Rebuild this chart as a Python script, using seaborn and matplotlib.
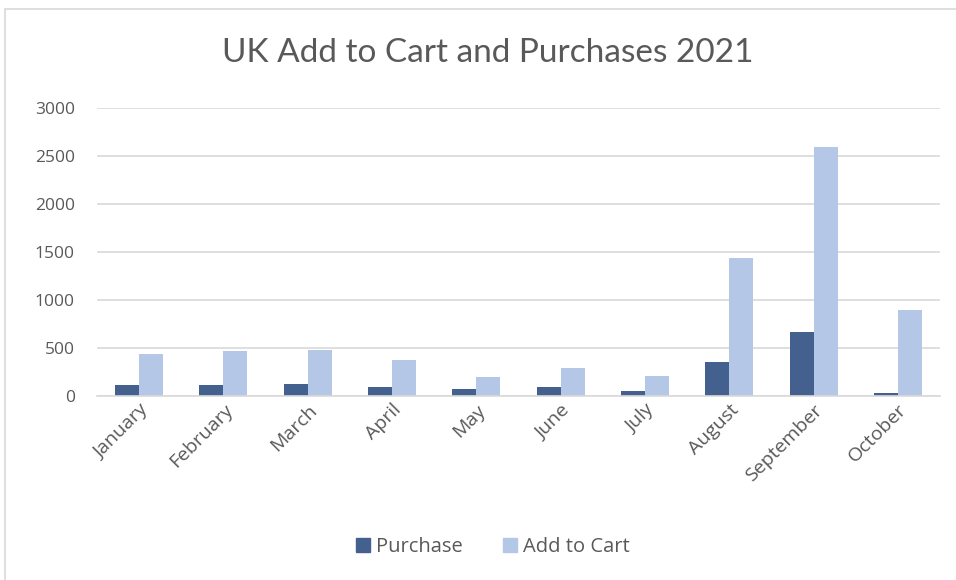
import matplotlib
matplotlib.use("Agg")
import matplotlib.pyplot as plt
import matplotlib.patches as mpatches
import seaborn as sns
import pandas as pd

months = ["January", "February", "March", "April", "May", "June",
          "July", "August", "September", "October"]
purchase = [110, 110, 120, 89, 65, 84, 45, 348, 661, 27]
add_to_cart = [436, 464, 472, 370, 193, 288, 201, 1436, 2595, 890]
series_names = ["Purchase", "Add to Cart"]
y_ticks = [0, 500, 1000, 1500, 2000, 2500, 3000]

colors = {"Purchase": "#44608F", "Add to Cart": "#B4C7E7"}
text_color = "#595959"
grid_color = "#D9D9D9"

df = pd.DataFrame({
    "Month": months * 2,
    "Series": [series_names[0]] * len(months) + [series_names[1]] * len(months),
    "Value": purchase + add_to_cart,
})

sns.set_theme(style="white")
plt.rcParams["font.family"] = ["Open Sans", "DejaVu Sans"]
plt.rcParams["ytick.major.pad"] = 16
plt.rcParams["xtick.major.pad"] = 5

fig = plt.figure(figsize=(9.56, 5.80), dpi=100)
ax = fig.add_axes([97 / 956, 1 - 395.5 / 580, 843 / 956, 287.5 / 580])

sns.barplot(data=df, x="Month", y="Value", hue="Series", order=months,
            hue_order=series_names, palette=colors, width=0.57,
            linewidth=0, saturation=1, ax=ax, legend=False)

ax.set_ylim(0, 3000)
ax.set_xlim(-0.5, len(months) - 0.5)
ax.set_yticks(y_ticks)
ax.set_yticklabels([str(t) for t in y_ticks])
ax.yaxis.grid(True, color=grid_color, linewidth=1.2)
ax.set_axisbelow(True)
for side in ["top", "right", "left"]:
    ax.spines[side].set_visible(False)
ax.spines["bottom"].set_color(grid_color)
ax.spines["bottom"].set_linewidth(1.2)
ax.set_xlabel("")
ax.set_ylabel("")
ax.tick_params(axis="both", length=0, colors=text_color)
ax.tick_params(axis="y", labelsize=12.5, pad=16)
ax.tick_params(axis="x", labelsize=14, pad=4)
for lbl in ax.get_xticklabels():
    lbl.set_rotation(45)
    lbl.set_ha("right")
    lbl.set_rotation_mode("anchor")

fig.text(488 / 956, 1 - 53 / 580, "UK Add to Cart and Purchases 2021",
         ha="center", va="center", fontsize=24, color=text_color,
         family=["Lato", "DejaVu Sans"])

handles = [mpatches.Patch(color=colors[s], label=s) for s in series_names]
leg = fig.legend(handles=handles, loc="center", bbox_to_anchor=(493 / 956, 1 - 547 / 580),
                 ncol=2, frameon=False, fontsize=14.5, handlelength=0.7,
                 handleheight=0.7, handletextpad=0.3, columnspacing=2.0)
for t in leg.get_texts():
    t.set_color(text_color)

# Chart-area frame
fig.patches.append(mpatches.Rectangle((5 / 956, -0.05), 1.1, 1 - 9 / 580 + 0.05,
                                      transform=fig.transFigure, fill=False,
                                      edgecolor=grid_color, linewidth=1.2))

fig.savefig("out.png", dpi=100, facecolor="white")
